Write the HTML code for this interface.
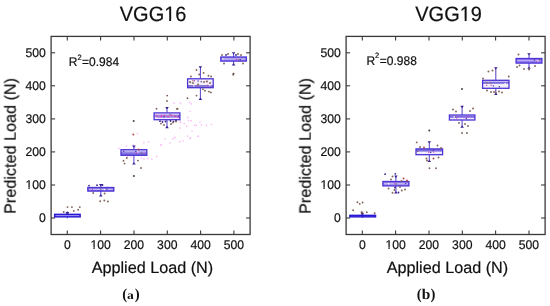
<!DOCTYPE html>
<html><head><meta charset="utf-8"><style>
html,body{margin:0;padding:0;background:#fff;}
body{width:550px;height:306px;overflow:hidden;}
svg{display:block;}
.tx{font-family:"Liberation Sans",sans-serif;fill:#111;stroke:#111;stroke-width:0.2px;font-kerning:none;text-rendering:geometricPrecision;will-change:transform;}
.tb{font-family:"Liberation Serif",serif;font-weight:bold;fill:#111;font-kerning:none;text-rendering:geometricPrecision;will-change:transform;}
</style></head><body>
<svg width="550" height="306" viewBox="0 0 550 306">
<rect width="550" height="306" fill="#fff"/>
<rect x="51.1" y="36.4" width="199.0" height="198.1" fill="none" stroke="#3a3a3a" stroke-width="1.3"/>
<line x1="67.3" y1="234.5" x2="67.3" y2="230.5" stroke="#3a3a3a" stroke-width="1.1"/>
<line x1="67.3" y1="36.4" x2="67.3" y2="40.4" stroke="#3a3a3a" stroke-width="1.1"/>
<text class="tx" transform="translate(63.91,248.70) scale(1,1.0400)" style="font-size:12.2px">0</text>
<line x1="51.1" y1="218.0" x2="55.1" y2="218.0" stroke="#3a3a3a" stroke-width="1.1"/>
<line x1="250.1" y1="218.0" x2="246.1" y2="218.0" stroke="#3a3a3a" stroke-width="1.1"/>
<text class="tx" transform="translate(39.01,221.80) scale(1,1.0400)" style="font-size:12.2px">0</text>
<line x1="100.6" y1="234.5" x2="100.6" y2="230.5" stroke="#3a3a3a" stroke-width="1.1"/>
<line x1="100.6" y1="36.4" x2="100.6" y2="40.4" stroke="#3a3a3a" stroke-width="1.1"/>
<text class="tx" transform="translate(90.45,248.70) scale(1,1.0400)" style="font-size:12.2px">100</text>
<rect transform="translate(90.45,248.70) scale(1,1.0400)" x="0.24" y="-1.19" width="2.77" height="1.73" fill="#fff"/>
<rect transform="translate(90.45,248.70) scale(1,1.0400)" x="4.21" y="-1.19" width="2.64" height="1.73" fill="#fff"/>
<line x1="51.1" y1="185.0" x2="55.1" y2="185.0" stroke="#3a3a3a" stroke-width="1.1"/>
<line x1="250.1" y1="185.0" x2="246.1" y2="185.0" stroke="#3a3a3a" stroke-width="1.1"/>
<text class="tx" transform="translate(25.44,188.76) scale(1,1.0400)" style="font-size:12.2px">100</text>
<rect transform="translate(25.44,188.76) scale(1,1.0400)" x="0.24" y="-1.19" width="2.77" height="1.73" fill="#fff"/>
<rect transform="translate(25.44,188.76) scale(1,1.0400)" x="4.21" y="-1.19" width="2.64" height="1.73" fill="#fff"/>
<line x1="134.0" y1="234.5" x2="134.0" y2="230.5" stroke="#3a3a3a" stroke-width="1.1"/>
<line x1="134.0" y1="36.4" x2="134.0" y2="40.4" stroke="#3a3a3a" stroke-width="1.1"/>
<text class="tx" transform="translate(123.78,248.70) scale(1,1.0400)" style="font-size:12.2px">200</text>
<line x1="51.1" y1="151.9" x2="55.1" y2="151.9" stroke="#3a3a3a" stroke-width="1.1"/>
<line x1="250.1" y1="151.9" x2="246.1" y2="151.9" stroke="#3a3a3a" stroke-width="1.1"/>
<text class="tx" transform="translate(25.44,155.72) scale(1,1.0400)" style="font-size:12.2px">200</text>
<line x1="167.3" y1="234.5" x2="167.3" y2="230.5" stroke="#3a3a3a" stroke-width="1.1"/>
<line x1="167.3" y1="36.4" x2="167.3" y2="40.4" stroke="#3a3a3a" stroke-width="1.1"/>
<text class="tx" transform="translate(157.11,248.70) scale(1,1.0400)" style="font-size:12.2px">300</text>
<line x1="51.1" y1="118.9" x2="55.1" y2="118.9" stroke="#3a3a3a" stroke-width="1.1"/>
<line x1="250.1" y1="118.9" x2="246.1" y2="118.9" stroke="#3a3a3a" stroke-width="1.1"/>
<text class="tx" transform="translate(25.44,122.68) scale(1,1.0400)" style="font-size:12.2px">300</text>
<line x1="200.6" y1="234.5" x2="200.6" y2="230.5" stroke="#3a3a3a" stroke-width="1.1"/>
<line x1="200.6" y1="36.4" x2="200.6" y2="40.4" stroke="#3a3a3a" stroke-width="1.1"/>
<text class="tx" transform="translate(190.44,248.70) scale(1,1.0400)" style="font-size:12.2px">400</text>
<line x1="51.1" y1="85.8" x2="55.1" y2="85.8" stroke="#3a3a3a" stroke-width="1.1"/>
<line x1="250.1" y1="85.8" x2="246.1" y2="85.8" stroke="#3a3a3a" stroke-width="1.1"/>
<text class="tx" transform="translate(25.44,89.64) scale(1,1.0400)" style="font-size:12.2px">400</text>
<line x1="233.9" y1="234.5" x2="233.9" y2="230.5" stroke="#3a3a3a" stroke-width="1.1"/>
<line x1="233.9" y1="36.4" x2="233.9" y2="40.4" stroke="#3a3a3a" stroke-width="1.1"/>
<text class="tx" transform="translate(223.77,248.70) scale(1,1.0400)" style="font-size:12.2px">500</text>
<line x1="51.1" y1="52.8" x2="55.1" y2="52.8" stroke="#3a3a3a" stroke-width="1.1"/>
<line x1="250.1" y1="52.8" x2="246.1" y2="52.8" stroke="#3a3a3a" stroke-width="1.1"/>
<text class="tx" transform="translate(25.44,56.60) scale(1,1.0400)" style="font-size:12.2px">500</text>
<text class="tx" transform="translate(119.75,20.85) scale(1,1.0400)" style="font-size:20.0px">VGG16</text>
<rect transform="translate(119.75,20.85) scale(1,1.0400)" x="44.84" y="-1.95" width="4.54" height="2.83" fill="#fff"/>
<rect transform="translate(119.75,20.85) scale(1,1.0400)" x="51.35" y="-1.95" width="4.34" height="2.83" fill="#fff"/>
<text class="tx" transform="translate(91.71,273.00) scale(1,1.0000)" style="font-size:16.2px">Applied Load (N)</text>
<text class="tx" transform="translate(15.70,145.90) rotate(-90) translate(-67.98,0) scale(1,1.0000)" style="font-size:16.2px">Predicted Load (N)</text>
<text class="tx" transform="translate(68.70,66.20) scale(1,1.0400)" style="font-size:12.0px">R</text>
<text class="tx" transform="translate(77.40,59.60) scale(1,1.0400)" style="font-size:7.5px">2</text>
<text class="tx" transform="translate(82.10,66.20) scale(1,1.0400)" style="font-size:12.0px">=0.984</text>
<circle cx="126.5" cy="146.0" r="0.85" fill="#fabff6"/>
<circle cx="133.0" cy="145.0" r="0.85" fill="#fabff6"/>
<circle cx="135.0" cy="147.0" r="0.85" fill="#fabff6"/>
<circle cx="127.5" cy="156.5" r="0.85" fill="#fabff6"/>
<circle cx="131.0" cy="157.0" r="0.85" fill="#fabff6"/>
<circle cx="141.5" cy="158.0" r="0.85" fill="#fabff6"/>
<circle cx="144.0" cy="159.0" r="0.85" fill="#fabff6"/>
<circle cx="143.9" cy="142.6" r="0.85" fill="#fabff6"/>
<circle cx="148.5" cy="141.9" r="0.85" fill="#fabff6"/>
<circle cx="137.5" cy="133.5" r="0.85" fill="#fabff6"/>
<circle cx="119.0" cy="148.5" r="0.85" fill="#fabff6"/>
<circle cx="148.0" cy="158.5" r="0.85" fill="#fabff6"/>
<circle cx="151.8" cy="159.2" r="0.85" fill="#fabff6"/>
<circle cx="156.7" cy="156.4" r="0.85" fill="#fabff6"/>
<circle cx="161.4" cy="144.6" r="0.85" fill="#fabff6"/>
<circle cx="160.9" cy="145.2" r="0.85" fill="#fabff6"/>
<circle cx="174.1" cy="103.2" r="0.85" fill="#fabff6"/>
<circle cx="180.5" cy="103.2" r="0.85" fill="#fabff6"/>
<circle cx="189.6" cy="102.4" r="0.85" fill="#fabff6"/>
<circle cx="191.3" cy="103.8" r="0.85" fill="#fabff6"/>
<circle cx="190.3" cy="111.0" r="0.85" fill="#fabff6"/>
<circle cx="188.5" cy="120.5" r="0.85" fill="#fabff6"/>
<circle cx="180.5" cy="122.5" r="0.85" fill="#fabff6"/>
<circle cx="186.7" cy="126.3" r="0.85" fill="#fabff6"/>
<circle cx="196.2" cy="125.3" r="0.85" fill="#fabff6"/>
<circle cx="201.5" cy="124.8" r="0.85" fill="#fabff6"/>
<circle cx="206.4" cy="125.3" r="0.85" fill="#fabff6"/>
<circle cx="211.5" cy="124.5" r="0.85" fill="#fabff6"/>
<circle cx="200.0" cy="122.0" r="0.85" fill="#fabff6"/>
<circle cx="192.0" cy="131.0" r="0.85" fill="#fabff6"/>
<circle cx="172.9" cy="138.8" r="0.85" fill="#fabff6"/>
<circle cx="175.0" cy="137.5" r="0.85" fill="#fabff6"/>
<circle cx="190.6" cy="137.8" r="0.85" fill="#fabff6"/>
<circle cx="198.3" cy="136.3" r="0.85" fill="#fabff6"/>
<circle cx="179.8" cy="141.7" r="0.85" fill="#fabff6"/>
<circle cx="183.0" cy="141.0" r="0.85" fill="#fabff6"/>
<circle cx="180.3" cy="121.3" r="0.85" fill="#fabff6"/>
<circle cx="187.7" cy="117.3" r="0.85" fill="#fabff6"/>
<circle cx="191.1" cy="120.7" r="0.85" fill="#fabff6"/>
<circle cx="184.3" cy="123.6" r="0.85" fill="#fabff6"/>
<circle cx="194.6" cy="125.3" r="0.85" fill="#fabff6"/>
<circle cx="179.7" cy="128.1" r="0.85" fill="#fabff6"/>
<circle cx="174.6" cy="137.3" r="0.85" fill="#fabff6"/>
<circle cx="190.0" cy="138.4" r="0.85" fill="#fabff6"/>
<circle cx="198.0" cy="136.1" r="0.85" fill="#fabff6"/>
<circle cx="187.7" cy="136.1" r="0.85" fill="#fabff6"/>
<circle cx="165.0" cy="139.0" r="0.85" fill="#fabff6"/>
<circle cx="170.0" cy="143.0" r="0.85" fill="#fabff6"/>
<line x1="67.4" y1="212.2" x2="67.4" y2="214.3" stroke="#5a46cc" stroke-width="1.05"/>
<line x1="67.4" y1="216.9" x2="67.4" y2="218.2" stroke="#5a46cc" stroke-width="1.05"/>
<rect x="54.6" y="214.3" width="25.6" height="2.6" fill="#6a5ae8"/>
<line x1="55.6" y1="215.6" x2="79.2" y2="215.6" stroke="#9a90f0" stroke-width="1"/>
<rect x="54.6" y="214.3" width="25.6" height="2.6" fill="none" stroke="#2414d2" stroke-width="1.3"/>
<line x1="100.8" y1="185.3" x2="100.8" y2="187.5" stroke="#5a46cc" stroke-width="1.05"/>
<line x1="100.8" y1="191.1" x2="100.8" y2="195.3" stroke="#5a46cc" stroke-width="1.05"/>
<path d="M99.0 184.1h3.6l-1.8 2.4z" fill="#3a2090"/>
<path d="M99.0 196.5h3.6l-1.8 -2.4z" fill="#3a2090"/>
<rect x="87.8" y="187.5" width="26.0" height="3.6" fill="#8474e4"/>
<line x1="88.8" y1="189.3" x2="112.8" y2="189.3" stroke="#d4ccf6" stroke-width="1"/>
<circle cx="92.4" cy="189.7" r="0.7" fill="#d040c8"/>
<circle cx="106.9" cy="189.0" r="0.7" fill="#4a2a98"/>
<circle cx="100.7" cy="189.2" r="0.7" fill="#7d6a58"/>
<circle cx="104.3" cy="189.7" r="0.7" fill="#ffffff"/>
<rect x="87.8" y="187.5" width="26.0" height="3.6" fill="none" stroke="#4c34d6" stroke-width="1.3"/>
<line x1="133.9" y1="146.6" x2="133.9" y2="149.7" stroke="#5a46cc" stroke-width="1.05"/>
<line x1="133.9" y1="155.3" x2="133.9" y2="163.4" stroke="#5a46cc" stroke-width="1.05"/>
<path d="M132.1 145.4h3.6l-1.8 2.4z" fill="#3a2090"/>
<path d="M132.1 164.6h3.6l-1.8 -2.4z" fill="#3a2090"/>
<rect x="121.0" y="149.7" width="25.8" height="5.6" fill="#f2eefc"/>
<rect x="121.0" y="152.2" width="25.8" height="3.0" fill="#8070e0"/>
<line x1="122.0" y1="151.2" x2="145.8" y2="151.2" stroke="#9a8ce8" stroke-width="1"/>
<circle cx="144.3" cy="154.0" r="0.7" fill="#d040c8"/>
<circle cx="123.8" cy="151.2" r="0.7" fill="#4a2a98"/>
<circle cx="141.5" cy="153.3" r="0.7" fill="#7d6a58"/>
<circle cx="137.8" cy="151.9" r="0.7" fill="#ffffff"/>
<circle cx="136.3" cy="152.8" r="0.7" fill="#d040c8"/>
<circle cx="135.8" cy="151.4" r="0.7" fill="#4a2a98"/>
<rect x="121.0" y="149.7" width="25.8" height="5.6" fill="none" stroke="#4c34d6" stroke-width="1.3"/>
<line x1="167.0" y1="108.3" x2="167.0" y2="112.9" stroke="#5a46cc" stroke-width="1.05"/>
<line x1="167.0" y1="119.7" x2="167.0" y2="127.0" stroke="#5a46cc" stroke-width="1.05"/>
<path d="M165.2 107.1h3.6l-1.8 2.4z" fill="#3a2090"/>
<path d="M165.2 128.2h3.6l-1.8 -2.4z" fill="#3a2090"/>
<rect x="154.1" y="112.9" width="25.8" height="6.8" fill="#f4f0fc"/>
<rect x="154.1" y="114.6" width="25.8" height="3.2" fill="#a884dc"/>
<circle cx="161.0" cy="116.5" r="0.7" fill="#d040c8"/>
<circle cx="164.0" cy="116.8" r="0.7" fill="#4a2a98"/>
<circle cx="169.9" cy="114.4" r="0.7" fill="#7d6a58"/>
<circle cx="155.9" cy="117.8" r="0.7" fill="#ffffff"/>
<circle cx="161.5" cy="115.1" r="0.7" fill="#d040c8"/>
<circle cx="178.3" cy="116.2" r="0.7" fill="#4a2a98"/>
<circle cx="174.7" cy="116.2" r="0.7" fill="#7d6a58"/>
<rect x="154.1" y="112.9" width="25.8" height="6.8" fill="none" stroke="#4c34d6" stroke-width="1.3"/>
<line x1="200.4" y1="67.5" x2="200.4" y2="78.8" stroke="#5a46cc" stroke-width="1.05"/>
<line x1="200.4" y1="87.7" x2="200.4" y2="98.8" stroke="#5a46cc" stroke-width="1.05"/>
<path d="M198.6 66.3h3.6l-1.8 2.4z" fill="#3a2090"/>
<path d="M198.6 100.0h3.6l-1.8 -2.4z" fill="#3a2090"/>
<rect x="187.6" y="78.8" width="25.6" height="8.9" fill="#f4f0fa"/>
<rect x="187.6" y="85.0" width="25.6" height="2.6" fill="#8a78d0"/>
<circle cx="194.4" cy="80.7" r="0.7" fill="#d040c8"/>
<circle cx="198.1" cy="81.0" r="0.7" fill="#4a2a98"/>
<circle cx="190.6" cy="82.6" r="0.7" fill="#7d6a58"/>
<circle cx="209.8" cy="85.2" r="0.7" fill="#ffffff"/>
<circle cx="206.4" cy="81.4" r="0.7" fill="#d040c8"/>
<circle cx="201.2" cy="81.8" r="0.7" fill="#4a2a98"/>
<circle cx="193.0" cy="80.7" r="0.7" fill="#7d6a58"/>
<circle cx="193.9" cy="86.0" r="0.7" fill="#ffffff"/>
<circle cx="207.8" cy="85.3" r="0.7" fill="#d040c8"/>
<rect x="187.6" y="78.8" width="25.6" height="8.9" fill="none" stroke="#4c34d6" stroke-width="1.3"/>
<line x1="233.6" y1="53.4" x2="233.6" y2="57.0" stroke="#5a46cc" stroke-width="1.05"/>
<line x1="233.6" y1="61.1" x2="233.6" y2="64.2" stroke="#5a46cc" stroke-width="1.05"/>
<path d="M231.8 52.2h3.6l-1.8 2.4z" fill="#3a2090"/>
<path d="M231.8 65.4h3.6l-1.8 -2.4z" fill="#3a2090"/>
<rect x="220.8" y="57.0" width="25.6" height="4.1" fill="#9c8cec"/>
<line x1="221.8" y1="59.0" x2="245.4" y2="59.0" stroke="#c8bcf4" stroke-width="1"/>
<circle cx="236.4" cy="59.5" r="0.7" fill="#d040c8"/>
<circle cx="240.3" cy="59.8" r="0.7" fill="#4a2a98"/>
<circle cx="239.0" cy="59.8" r="0.7" fill="#7d6a58"/>
<circle cx="223.0" cy="59.0" r="0.7" fill="#ffffff"/>
<rect x="220.8" y="57.0" width="25.6" height="4.1" fill="none" stroke="#4c34d6" stroke-width="1.3"/>
<circle cx="67.4" cy="212.4" r="0.9" fill="#3a2090"/>
<circle cx="66.6" cy="212.8" r="0.9" fill="#3a2090"/>
<circle cx="68.2" cy="212.8" r="0.9" fill="#3a2090"/>
<circle cx="67.5" cy="207.1" r="0.95" fill="#82645a"/>
<circle cx="71.9" cy="207.1" r="0.95" fill="#82645a"/>
<circle cx="79.8" cy="207.1" r="0.95" fill="#82645a"/>
<circle cx="73.8" cy="210.9" r="0.95" fill="#82645a"/>
<circle cx="78.2" cy="209.8" r="0.95" fill="#82645a"/>
<circle cx="63.7" cy="212.0" r="0.95" fill="#82645a"/>
<circle cx="100.2" cy="201.3" r="0.95" fill="#82645a"/>
<circle cx="104.3" cy="200.5" r="0.95" fill="#82645a"/>
<circle cx="107.9" cy="201.5" r="0.95" fill="#82645a"/>
<circle cx="93.2" cy="193.0" r="0.95" fill="#82645a"/>
<circle cx="104.6" cy="193.5" r="0.95" fill="#82645a"/>
<circle cx="89.0" cy="185.6" r="0.9" fill="#3a2090"/>
<circle cx="97.0" cy="185.2" r="0.9" fill="#3a2090"/>
<circle cx="102.5" cy="185.0" r="0.9" fill="#3a2090"/>
<circle cx="133.7" cy="120.9" r="1.0" fill="#4a4242"/>
<circle cx="133.9" cy="175.9" r="1.0" fill="#4a4242"/>
<circle cx="133.3" cy="134.5" r="0.95" fill="#b04848"/>
<circle cx="123.5" cy="160.8" r="0.95" fill="#82645a"/>
<circle cx="124.6" cy="163.6" r="0.95" fill="#82645a"/>
<circle cx="141.0" cy="168.0" r="0.95" fill="#82645a"/>
<circle cx="126.8" cy="158.0" r="0.95" fill="#82645a"/>
<circle cx="138.0" cy="160.6" r="0.95" fill="#82645a"/>
<circle cx="138.5" cy="149.5" r="0.95" fill="#b04848"/>
<circle cx="167.2" cy="95.6" r="0.95" fill="#82645a"/>
<circle cx="167.0" cy="101.0" r="0.95" fill="#82645a"/>
<circle cx="160.0" cy="121.2" r="0.9" fill="#3a2090"/>
<circle cx="162.5" cy="122.0" r="0.9" fill="#3a2090"/>
<circle cx="165.5" cy="121.5" r="0.9" fill="#3a2090"/>
<circle cx="170.5" cy="121.0" r="0.9" fill="#3a2090"/>
<circle cx="173.5" cy="121.6" r="0.9" fill="#3a2090"/>
<circle cx="176.0" cy="120.6" r="0.9" fill="#3a2090"/>
<circle cx="164.5" cy="115.2" r="0.8" fill="#d83ac8"/>
<circle cx="168.0" cy="116.6" r="0.8" fill="#d83ac8"/>
<circle cx="171.5" cy="115.4" r="0.8" fill="#d83ac8"/>
<circle cx="175.0" cy="116.2" r="0.8" fill="#d83ac8"/>
<circle cx="178.0" cy="117.0" r="0.8" fill="#d83ac8"/>
<circle cx="161.5" cy="116.4" r="0.8" fill="#d83ac8"/>
<circle cx="157.0" cy="115.8" r="0.8" fill="#d83ac8"/>
<circle cx="156.5" cy="108.7" r="0.95" fill="#82645a"/>
<circle cx="177.6" cy="108.7" r="0.95" fill="#82645a"/>
<circle cx="161.0" cy="123.6" r="0.95" fill="#82645a"/>
<circle cx="164.0" cy="125.0" r="0.95" fill="#82645a"/>
<circle cx="171.0" cy="124.0" r="0.95" fill="#82645a"/>
<circle cx="173.0" cy="122.5" r="0.95" fill="#82645a"/>
<circle cx="176.0" cy="121.5" r="0.95" fill="#82645a"/>
<circle cx="196.5" cy="70.0" r="0.95" fill="#82645a"/>
<circle cx="203.6" cy="72.9" r="0.95" fill="#82645a"/>
<circle cx="199.2" cy="74.5" r="0.95" fill="#82645a"/>
<circle cx="190.9" cy="76.5" r="0.95" fill="#82645a"/>
<circle cx="208.5" cy="75.8" r="0.95" fill="#82645a"/>
<circle cx="211.1" cy="76.5" r="0.95" fill="#82645a"/>
<circle cx="203.0" cy="89.3" r="0.95" fill="#82645a"/>
<circle cx="205.0" cy="90.8" r="0.95" fill="#82645a"/>
<circle cx="208.9" cy="91.6" r="0.95" fill="#82645a"/>
<circle cx="210.9" cy="92.4" r="0.95" fill="#82645a"/>
<circle cx="196.5" cy="95.6" r="0.95" fill="#82645a"/>
<circle cx="187.5" cy="98.3" r="0.95" fill="#82645a"/>
<circle cx="176.9" cy="108.9" r="0.95" fill="#82645a"/>
<circle cx="193.0" cy="83.0" r="0.95" fill="#82645a"/>
<circle cx="198.0" cy="84.5" r="0.95" fill="#82645a"/>
<circle cx="204.0" cy="82.0" r="0.95" fill="#82645a"/>
<circle cx="207.0" cy="81.5" r="0.95" fill="#82645a"/>
<circle cx="210.0" cy="83.0" r="0.95" fill="#82645a"/>
<circle cx="190.0" cy="82.0" r="0.95" fill="#82645a"/>
<circle cx="233.5" cy="73.8" r="1.0" fill="#4a4242"/>
<circle cx="233.2" cy="74.8" r="0.95" fill="#82645a"/>
<circle cx="222.0" cy="55.0" r="0.95" fill="#82645a"/>
<circle cx="228.0" cy="54.0" r="0.95" fill="#82645a"/>
<circle cx="238.0" cy="54.0" r="0.95" fill="#82645a"/>
<circle cx="241.0" cy="55.0" r="0.95" fill="#82645a"/>
<circle cx="224.0" cy="63.5" r="0.95" fill="#82645a"/>
<circle cx="243.0" cy="63.5" r="0.95" fill="#82645a"/>
<circle cx="226.0" cy="55.0" r="0.9" fill="#3a2090"/>
<circle cx="236.0" cy="55.0" r="0.9" fill="#3a2090"/>
<rect x="346.1" y="36.4" width="199.0" height="198.1" fill="none" stroke="#3a3a3a" stroke-width="1.3"/>
<line x1="362.3" y1="234.5" x2="362.3" y2="230.5" stroke="#3a3a3a" stroke-width="1.1"/>
<line x1="362.3" y1="36.4" x2="362.3" y2="40.4" stroke="#3a3a3a" stroke-width="1.1"/>
<text class="tx" transform="translate(358.91,248.70) scale(1,1.0400)" style="font-size:12.2px">0</text>
<line x1="346.1" y1="218.0" x2="350.1" y2="218.0" stroke="#3a3a3a" stroke-width="1.1"/>
<line x1="545.1" y1="218.0" x2="541.1" y2="218.0" stroke="#3a3a3a" stroke-width="1.1"/>
<text class="tx" transform="translate(334.01,221.80) scale(1,1.0400)" style="font-size:12.2px">0</text>
<line x1="395.6" y1="234.5" x2="395.6" y2="230.5" stroke="#3a3a3a" stroke-width="1.1"/>
<line x1="395.6" y1="36.4" x2="395.6" y2="40.4" stroke="#3a3a3a" stroke-width="1.1"/>
<text class="tx" transform="translate(385.45,248.70) scale(1,1.0400)" style="font-size:12.2px">100</text>
<rect transform="translate(385.45,248.70) scale(1,1.0400)" x="0.24" y="-1.19" width="2.77" height="1.73" fill="#fff"/>
<rect transform="translate(385.45,248.70) scale(1,1.0400)" x="4.21" y="-1.19" width="2.64" height="1.73" fill="#fff"/>
<line x1="346.1" y1="185.0" x2="350.1" y2="185.0" stroke="#3a3a3a" stroke-width="1.1"/>
<line x1="545.1" y1="185.0" x2="541.1" y2="185.0" stroke="#3a3a3a" stroke-width="1.1"/>
<text class="tx" transform="translate(320.44,188.76) scale(1,1.0400)" style="font-size:12.2px">100</text>
<rect transform="translate(320.44,188.76) scale(1,1.0400)" x="0.24" y="-1.19" width="2.77" height="1.73" fill="#fff"/>
<rect transform="translate(320.44,188.76) scale(1,1.0400)" x="4.21" y="-1.19" width="2.64" height="1.73" fill="#fff"/>
<line x1="429.0" y1="234.5" x2="429.0" y2="230.5" stroke="#3a3a3a" stroke-width="1.1"/>
<line x1="429.0" y1="36.4" x2="429.0" y2="40.4" stroke="#3a3a3a" stroke-width="1.1"/>
<text class="tx" transform="translate(418.78,248.70) scale(1,1.0400)" style="font-size:12.2px">200</text>
<line x1="346.1" y1="151.9" x2="350.1" y2="151.9" stroke="#3a3a3a" stroke-width="1.1"/>
<line x1="545.1" y1="151.9" x2="541.1" y2="151.9" stroke="#3a3a3a" stroke-width="1.1"/>
<text class="tx" transform="translate(320.44,155.72) scale(1,1.0400)" style="font-size:12.2px">200</text>
<line x1="462.3" y1="234.5" x2="462.3" y2="230.5" stroke="#3a3a3a" stroke-width="1.1"/>
<line x1="462.3" y1="36.4" x2="462.3" y2="40.4" stroke="#3a3a3a" stroke-width="1.1"/>
<text class="tx" transform="translate(452.11,248.70) scale(1,1.0400)" style="font-size:12.2px">300</text>
<line x1="346.1" y1="118.9" x2="350.1" y2="118.9" stroke="#3a3a3a" stroke-width="1.1"/>
<line x1="545.1" y1="118.9" x2="541.1" y2="118.9" stroke="#3a3a3a" stroke-width="1.1"/>
<text class="tx" transform="translate(320.44,122.68) scale(1,1.0400)" style="font-size:12.2px">300</text>
<line x1="495.6" y1="234.5" x2="495.6" y2="230.5" stroke="#3a3a3a" stroke-width="1.1"/>
<line x1="495.6" y1="36.4" x2="495.6" y2="40.4" stroke="#3a3a3a" stroke-width="1.1"/>
<text class="tx" transform="translate(485.44,248.70) scale(1,1.0400)" style="font-size:12.2px">400</text>
<line x1="346.1" y1="85.8" x2="350.1" y2="85.8" stroke="#3a3a3a" stroke-width="1.1"/>
<line x1="545.1" y1="85.8" x2="541.1" y2="85.8" stroke="#3a3a3a" stroke-width="1.1"/>
<text class="tx" transform="translate(320.44,89.64) scale(1,1.0400)" style="font-size:12.2px">400</text>
<line x1="529.0" y1="234.5" x2="529.0" y2="230.5" stroke="#3a3a3a" stroke-width="1.1"/>
<line x1="529.0" y1="36.4" x2="529.0" y2="40.4" stroke="#3a3a3a" stroke-width="1.1"/>
<text class="tx" transform="translate(518.77,248.70) scale(1,1.0400)" style="font-size:12.2px">500</text>
<line x1="346.1" y1="52.8" x2="350.1" y2="52.8" stroke="#3a3a3a" stroke-width="1.1"/>
<line x1="545.1" y1="52.8" x2="541.1" y2="52.8" stroke="#3a3a3a" stroke-width="1.1"/>
<text class="tx" transform="translate(320.44,56.60) scale(1,1.0400)" style="font-size:12.2px">500</text>
<text class="tx" transform="translate(415.25,20.85) scale(1,1.0400)" style="font-size:20.0px">VGG19</text>
<rect transform="translate(415.25,20.85) scale(1,1.0400)" x="44.84" y="-1.95" width="4.54" height="2.83" fill="#fff"/>
<rect transform="translate(415.25,20.85) scale(1,1.0400)" x="51.35" y="-1.95" width="4.34" height="2.83" fill="#fff"/>
<text class="tx" transform="translate(386.71,273.00) scale(1,1.0000)" style="font-size:16.2px">Applied Load (N)</text>
<text class="tx" transform="translate(310.70,145.90) rotate(-90) translate(-67.98,0) scale(1,1.0000)" style="font-size:16.2px">Predicted Load (N)</text>
<text class="tx" transform="translate(366.40,64.90) scale(1,1.0400)" style="font-size:12.0px">R</text>
<text class="tx" transform="translate(375.10,58.30) scale(1,1.0400)" style="font-size:7.5px">2</text>
<text class="tx" transform="translate(379.80,64.90) scale(1,1.0400)" style="font-size:12.0px">=0.988</text>

<line x1="362.7" y1="213.5" x2="362.7" y2="215.3" stroke="#5a46cc" stroke-width="1.05"/>
<line x1="362.7" y1="216.9" x2="362.7" y2="218.0" stroke="#5a46cc" stroke-width="1.05"/>
<rect x="349.8" y="215.3" width="25.8" height="1.6" fill="#5040e4"/>
<line x1="350.8" y1="216.1" x2="374.6" y2="216.1" stroke="#8070ec" stroke-width="1"/>
<rect x="349.8" y="215.3" width="25.8" height="1.6" fill="none" stroke="#2414d2" stroke-width="1.3"/>
<line x1="395.9" y1="176.7" x2="395.9" y2="181.5" stroke="#5a46cc" stroke-width="1.05"/>
<line x1="395.9" y1="185.9" x2="395.9" y2="192.2" stroke="#5a46cc" stroke-width="1.05"/>
<path d="M394.1 175.5h3.6l-1.8 2.4z" fill="#3a2090"/>
<path d="M394.1 193.4h3.6l-1.8 -2.4z" fill="#3a2090"/>
<rect x="382.9" y="181.5" width="26.0" height="4.4" fill="#9282e8"/>
<line x1="383.9" y1="183.8" x2="407.9" y2="183.8" stroke="#d4ccf6" stroke-width="1"/>
<circle cx="394.8" cy="183.8" r="0.7" fill="#d040c8"/>
<circle cx="405.7" cy="183.6" r="0.7" fill="#4a2a98"/>
<circle cx="396.1" cy="183.9" r="0.7" fill="#7d6a58"/>
<circle cx="388.6" cy="183.7" r="0.7" fill="#ffffff"/>
<rect x="382.9" y="181.5" width="26.0" height="4.4" fill="none" stroke="#4c34d6" stroke-width="1.3"/>
<line x1="429.3" y1="142.4" x2="429.3" y2="148.9" stroke="#5a46cc" stroke-width="1.05"/>
<line x1="429.3" y1="154.7" x2="429.3" y2="160.9" stroke="#5a46cc" stroke-width="1.05"/>
<path d="M427.5 141.2h3.6l-1.8 2.4z" fill="#3a2090"/>
<path d="M427.5 162.1h3.6l-1.8 -2.4z" fill="#3a2090"/>
<rect x="416.0" y="148.9" width="26.6" height="5.8" fill="#f0ecfc"/>
<rect x="416.0" y="149.0" width="26.6" height="2.6" fill="#7e6ce0"/>
<circle cx="428.7" cy="152.3" r="0.7" fill="#d040c8"/>
<circle cx="433.2" cy="150.6" r="0.7" fill="#4a2a98"/>
<circle cx="417.8" cy="151.4" r="0.7" fill="#7d6a58"/>
<circle cx="424.0" cy="152.9" r="0.7" fill="#ffffff"/>
<circle cx="433.8" cy="152.1" r="0.7" fill="#d040c8"/>
<circle cx="430.7" cy="152.4" r="0.7" fill="#4a2a98"/>
<rect x="416.0" y="148.9" width="26.6" height="5.8" fill="none" stroke="#4c34d6" stroke-width="1.3"/>
<line x1="462.1" y1="107.0" x2="462.1" y2="115.0" stroke="#5a46cc" stroke-width="1.05"/>
<line x1="462.1" y1="120.0" x2="462.1" y2="126.5" stroke="#5a46cc" stroke-width="1.05"/>
<path d="M460.3 105.8h3.6l-1.8 2.4z" fill="#3a2090"/>
<path d="M460.3 127.7h3.6l-1.8 -2.4z" fill="#3a2090"/>
<rect x="449.4" y="115.0" width="25.5" height="5.0" fill="#f0ecfc"/>
<rect x="449.4" y="115.8" width="25.5" height="2.0" fill="#7e6ce0"/>
<circle cx="456.7" cy="118.0" r="0.7" fill="#d040c8"/>
<circle cx="466.3" cy="118.4" r="0.7" fill="#4a2a98"/>
<circle cx="455.1" cy="116.8" r="0.7" fill="#7d6a58"/>
<circle cx="454.2" cy="116.8" r="0.7" fill="#ffffff"/>
<circle cx="467.4" cy="116.5" r="0.7" fill="#d040c8"/>
<rect x="449.4" y="115.0" width="25.5" height="5.0" fill="none" stroke="#4c34d6" stroke-width="1.3"/>
<line x1="495.8" y1="68.5" x2="495.8" y2="80.3" stroke="#5a46cc" stroke-width="1.05"/>
<line x1="495.8" y1="88.3" x2="495.8" y2="93.8" stroke="#5a46cc" stroke-width="1.05"/>
<path d="M494.0 67.3h3.6l-1.8 2.4z" fill="#3a2090"/>
<path d="M494.0 95.0h3.6l-1.8 -2.4z" fill="#3a2090"/>
<rect x="482.6" y="80.3" width="26.4" height="8.0" fill="#f2eef8"/>
<rect x="482.6" y="81.6" width="26.4" height="2.2" fill="#7e6ce0"/>
<circle cx="486.6" cy="85.4" r="0.7" fill="#d040c8"/>
<circle cx="499.4" cy="86.8" r="0.7" fill="#4a2a98"/>
<circle cx="490.4" cy="82.9" r="0.7" fill="#7d6a58"/>
<circle cx="501.3" cy="85.2" r="0.7" fill="#ffffff"/>
<circle cx="491.2" cy="85.3" r="0.7" fill="#d040c8"/>
<circle cx="493.4" cy="85.9" r="0.7" fill="#4a2a98"/>
<circle cx="486.9" cy="82.7" r="0.7" fill="#7d6a58"/>
<circle cx="505.2" cy="83.5" r="0.7" fill="#ffffff"/>
<rect x="482.6" y="80.3" width="26.4" height="8.0" fill="none" stroke="#4c34d6" stroke-width="1.3"/>
<line x1="529.0" y1="54.4" x2="529.0" y2="58.5" stroke="#5a46cc" stroke-width="1.05"/>
<line x1="529.0" y1="63.1" x2="529.0" y2="67.6" stroke="#5a46cc" stroke-width="1.05"/>
<path d="M527.2 53.2h3.6l-1.8 2.4z" fill="#3a2090"/>
<path d="M527.2 68.8h3.6l-1.8 -2.4z" fill="#3a2090"/>
<rect x="516.1" y="58.5" width="25.8" height="4.6" fill="#9078f0"/>
<line x1="517.1" y1="60.6" x2="540.9" y2="60.6" stroke="#c0b0f6" stroke-width="1"/>
<circle cx="539.6" cy="59.7" r="0.7" fill="#d040c8"/>
<circle cx="534.4" cy="60.0" r="0.7" fill="#4a2a98"/>
<circle cx="540.1" cy="59.7" r="0.7" fill="#7d6a58"/>
<circle cx="537.7" cy="61.2" r="0.7" fill="#ffffff"/>
<circle cx="537.1" cy="61.9" r="0.7" fill="#d040c8"/>
<rect x="516.1" y="58.5" width="25.8" height="4.6" fill="none" stroke="#4c34d6" stroke-width="1.3"/>
<circle cx="362.8" cy="213.6" r="0.9" fill="#3a2090"/>
<circle cx="361.8" cy="213.9" r="0.9" fill="#3a2090"/>
<circle cx="357.4" cy="202.3" r="0.95" fill="#82645a"/>
<circle cx="359.7" cy="203.9" r="0.95" fill="#82645a"/>
<circle cx="362.6" cy="202.5" r="0.95" fill="#82645a"/>
<circle cx="353.1" cy="210.2" r="0.95" fill="#82645a"/>
<circle cx="361.5" cy="212.2" r="0.95" fill="#82645a"/>
<circle cx="362.4" cy="212.5" r="0.95" fill="#82645a"/>
<circle cx="366.8" cy="212.2" r="0.95" fill="#82645a"/>
<circle cx="374.6" cy="213.3" r="0.95" fill="#82645a"/>
<circle cx="385.1" cy="174.2" r="0.9" fill="#3a2090"/>
<circle cx="395.3" cy="173.8" r="0.9" fill="#3a2090"/>
<circle cx="392.5" cy="176.5" r="0.95" fill="#82645a"/>
<circle cx="391.0" cy="179.5" r="0.95" fill="#82645a"/>
<circle cx="403.5" cy="178.5" r="0.95" fill="#b04848"/>
<circle cx="407.0" cy="180.5" r="0.95" fill="#b04848"/>
<circle cx="401.5" cy="181.0" r="0.95" fill="#82645a"/>
<circle cx="395.0" cy="187.5" r="0.9" fill="#3a2090"/>
<circle cx="388.5" cy="188.5" r="0.95" fill="#82645a"/>
<circle cx="400.0" cy="187.0" r="0.95" fill="#82645a"/>
<circle cx="394.5" cy="190.0" r="0.95" fill="#82645a"/>
<circle cx="392.5" cy="192.7" r="0.95" fill="#82645a"/>
<circle cx="398.5" cy="192.5" r="0.9" fill="#3a2090"/>
<circle cx="401.8" cy="190.5" r="0.95" fill="#82645a"/>
<circle cx="405.0" cy="189.5" r="0.95" fill="#82645a"/>
<circle cx="429.3" cy="130.6" r="1.0" fill="#4a4242"/>
<circle cx="429.5" cy="168.3" r="0.95" fill="#82645a"/>
<circle cx="436.0" cy="168.3" r="0.95" fill="#82645a"/>
<circle cx="416.7" cy="142.4" r="0.95" fill="#82645a"/>
<circle cx="437.5" cy="145.5" r="0.95" fill="#82645a"/>
<circle cx="420.0" cy="147.0" r="0.95" fill="#82645a"/>
<circle cx="424.0" cy="147.5" r="0.95" fill="#b04848"/>
<circle cx="441.0" cy="148.0" r="0.95" fill="#82645a"/>
<circle cx="426.5" cy="158.5" r="0.95" fill="#82645a"/>
<circle cx="427.0" cy="160.5" r="0.95" fill="#82645a"/>
<circle cx="433.5" cy="158.5" r="0.95" fill="#b04848"/>
<circle cx="438.5" cy="157.5" r="0.95" fill="#82645a"/>
<circle cx="462.0" cy="89.1" r="1.0" fill="#4a4242"/>
<circle cx="462.0" cy="133.0" r="0.95" fill="#82645a"/>
<circle cx="466.9" cy="133.0" r="0.95" fill="#82645a"/>
<circle cx="453.0" cy="109.5" r="0.95" fill="#82645a"/>
<circle cx="456.0" cy="111.5" r="0.95" fill="#82645a"/>
<circle cx="470.0" cy="111.0" r="0.95" fill="#82645a"/>
<circle cx="473.0" cy="108.5" r="0.95" fill="#82645a"/>
<circle cx="465.0" cy="124.0" r="0.95" fill="#82645a"/>
<circle cx="468.0" cy="126.0" r="0.95" fill="#82645a"/>
<circle cx="459.0" cy="123.0" r="0.95" fill="#82645a"/>
<circle cx="488.4" cy="71.5" r="0.95" fill="#82645a"/>
<circle cx="492.5" cy="70.5" r="0.95" fill="#82645a"/>
<circle cx="508.8" cy="76.5" r="0.95" fill="#82645a"/>
<circle cx="483.0" cy="78.5" r="0.95" fill="#82645a"/>
<circle cx="487.0" cy="90.5" r="0.95" fill="#82645a"/>
<circle cx="491.0" cy="92.0" r="0.95" fill="#82645a"/>
<circle cx="494.0" cy="92.0" r="0.95" fill="#82645a"/>
<circle cx="499.0" cy="91.5" r="0.95" fill="#82645a"/>
<circle cx="502.0" cy="92.5" r="0.95" fill="#82645a"/>
<circle cx="496.0" cy="93.0" r="0.95" fill="#82645a"/>
<circle cx="518.5" cy="54.5" r="0.95" fill="#82645a"/>
<circle cx="519.5" cy="65.5" r="0.95" fill="#82645a"/>
<circle cx="517.0" cy="67.0" r="0.95" fill="#82645a"/>
<circle cx="524.0" cy="69.0" r="0.95" fill="#82645a"/>
<circle cx="535.0" cy="66.0" r="0.95" fill="#82645a"/>
<circle cx="529.0" cy="69.5" r="0.95" fill="#82645a"/>
<text class="tb" transform="translate(122.30,298.60) scale(1,1.0300)" style="font-size:14.8px">(</text>
<text class="tb" transform="translate(127.10,298.70) scale(1,0.8600)" style="font-size:13.6px">a</text>
<text class="tb" transform="translate(134.70,298.60) scale(1,1.0300)" style="font-size:14.8px">)</text>
<text class="tb" transform="translate(416.80,298.60) scale(1,1.0300)" style="font-size:14.8px">(</text>
<text class="tb" transform="translate(421.82,298.70) scale(1,0.9700)" style="font-size:15.4px">b</text>
<text class="tb" transform="translate(430.50,298.60) scale(1,1.0300)" style="font-size:14.8px">)</text>
</svg>
</body></html>
